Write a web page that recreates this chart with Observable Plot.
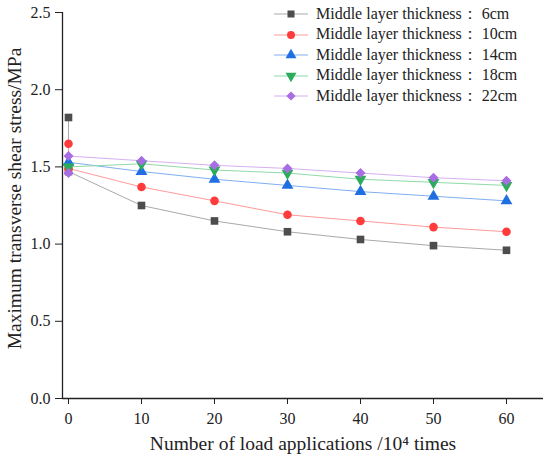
<!DOCTYPE html>
<html><head><meta charset="utf-8">
<script src="https://cdn.jsdelivr.net/npm/d3@7"></script>
<script src="https://cdn.jsdelivr.net/npm/@observablehq/plot@0.6"></script>
<style>
body{margin:0;background:#fff;}
#wrap{position:relative;width:550px;height:463px;font-family:"Liberation Serif","Times New Roman",serif;}
#legend{position:absolute;left:274px;top:4px;font-size:16px;color:#222;}
.row{display:flex;align-items:center;height:20.5px;white-space:nowrap;}
.row svg{margin-right:8px;}
</style></head>
<body><div id="wrap"><div id="chart"></div><div id="legend"></div></div>
<script>
const seriesNames = ["6cm","10cm","14cm","18cm","22cm"];
const x6  = [0,0,10,20,30,40,50,60];
const y6  = [1.82,1.47,1.25,1.15,1.08,1.03,0.99,0.96];
const x10 = [0,0,10,20,30,40,50,60];
const y10 = [1.65,1.49,1.37,1.28,1.19,1.15,1.11,1.08];
const x14 = [0,10,20,30,40,50,60];
const y14 = [1.53,1.47,1.42,1.38,1.34,1.31,1.28];
const x18 = [0,10,20,30,40,50,60];
const y18 = [1.50,1.52,1.48,1.46,1.42,1.40,1.38];
const x22 = [0,0,10,20,30,40,50,60];
const y22 = [1.46,1.57,1.54,1.51,1.49,1.46,1.43,1.41];
const xTicks = [0,10,20,30,40,50,60];
const yTicks = [0,0.5,1.0,1.5,2.0,2.5];
const xLabel = "Number of load applications /10⁴ times";
const yLabel = "Maximum transverse shear stress/MPa";

const lineColors = ["#a9a9a9","#ff9a9a","#80aef2","#8fd9a8","#d6b0f2"];
const dotColors  = ["#4d4d4d","#ff3b3b","#1f6fe3","#2bab5b","#a86ce3"];
const symbols    = ["square","circle","triangle","triangle","square"];
const rotations  = [0,0,0,180,45];
const radii      = [4.3,4.3,4.4,4.4,4.0];

const xs = [x6,x10,x14,x18,x22], ys = [y6,y10,y14,y18,y22];
const data = [];
xs.forEach((xa,i)=>xa.forEach((x,j)=>data.push({s:seriesNames[i], i, x, y: ys[i][j]})));

const xDom = [-0.82, 65.07];
const yDom = [0, 2.5];

const chart = Plot.plot({
  width:550, height:463,
  marginLeft:62, marginRight:7, marginTop:12, marginBottom:65,
  style:{fontFamily:'"Liberation Serif","Times New Roman",serif', background:"#fff", color:"#222"},
  x:{domain:xDom},
  y:{domain:yDom},
  marks:[
    Plot.ruleX([xDom[0]],{stroke:"#222",strokeWidth:1.3}),
    Plot.ruleY([yDom[0]],{stroke:"#222",strokeWidth:1.3}),
    Plot.axisX({ticks:xTicks, tickSize:6, tickPadding:8, fontSize:16, label:null}),
    Plot.axisY({ticks:yTicks, tickSize:7, tickPadding:5, fontSize:16, tickFormat:d3.format(".1f"), label:null}),
    Plot.text([xLabel],{frameAnchor:"bottom", textAnchor:"middle", dy:51, fontSize:19.5, fill:"#222"}),
    Plot.text([yLabel],{frameAnchor:"left", textAnchor:"middle", rotate:-90, dx:-48, dy:-7, fontSize:19.5, fill:"#222"}),
    ...seriesNames.map((s,i)=>Plot.line(data.filter(d=>d.i===i),{x:"x",y:"y",stroke:lineColors[i],strokeWidth:1})),
    ...seriesNames.map((s,i)=>Plot.dot(data.filter(d=>d.i===i),{x:"x",y:"y",symbol:symbols[i],rotate:rotations[i],r:radii[i],fill:dotColors[i],stroke:"none"}))
  ]
});
document.getElementById("chart").appendChild(chart);

const legend = document.getElementById("legend");
seriesNames.forEach((s,i)=>{
  const row = document.createElement("div"); row.className="row";
  const svg = d3.create("svg").attr("width",34).attr("height",14);
  svg.append("line").attr("x1",0).attr("x2",34).attr("y1",7).attr("y2",7).attr("stroke",lineColors[i]).attr("stroke-width",1);
  const sym = {square:d3.symbolSquare,circle:d3.symbolCircle,triangle:d3.symbolTriangle}[symbols[i]];
  svg.append("path").attr("d",d3.symbol(sym, Math.PI*radii[i]*radii[i]*0.85)()).attr("fill",dotColors[i])
     .attr("transform",`translate(17,7) rotate(${rotations[i]})`);
  row.appendChild(svg.node());
  const span = document.createElement("span"); span.textContent = "Middle layer thickness： " + s;
  row.appendChild(span);
  legend.appendChild(row);
});
</script></body></html>
